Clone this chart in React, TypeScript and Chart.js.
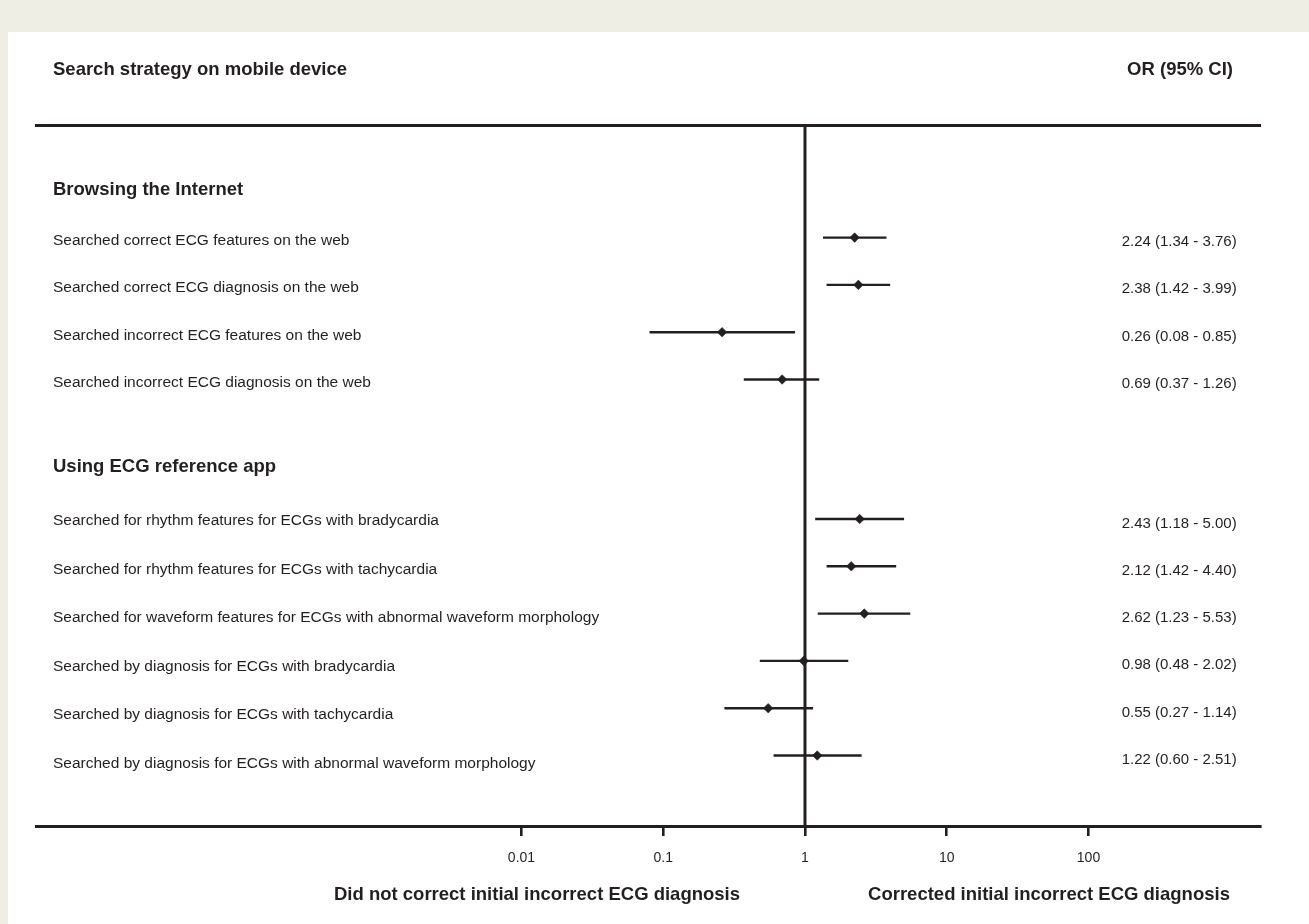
import React, { useEffect, useRef } from "react";
import { Chart, registerables } from "chart.js";

Chart.register(...registerables);

// ---- data ----
const TITLE_LEFT = "Search strategy on mobile device";
const TITLE_RIGHT = "OR (95% CI)";
const GROUP_NAMES = ["Browsing the Internet", "Using ECG reference app"];
const ROW_GROUP = [0, 0, 0, 0, 1, 1, 1, 1, 1, 1];
const ROW_LABELS = [
  "Searched correct ECG features on the web",
  "Searched correct ECG diagnosis on the web",
  "Searched incorrect ECG features on the web",
  "Searched incorrect ECG diagnosis on the web",
  "Searched for rhythm features for ECGs with bradycardia",
  "Searched for rhythm features for ECGs with tachycardia",
  "Searched for waveform features for ECGs with abnormal waveform morphology",
  "Searched by diagnosis for ECGs with bradycardia",
  "Searched by diagnosis for ECGs with tachycardia",
  "Searched by diagnosis for ECGs with abnormal waveform morphology",
];
const OR_VALUES = [2.24, 2.38, 0.26, 0.69, 2.43, 2.12, 2.62, 0.98, 0.55, 1.22];
const CI_LOW = [1.34, 1.42, 0.08, 0.37, 1.18, 1.42, 1.23, 0.48, 0.27, 0.6];
const CI_HIGH = [3.76, 3.99, 0.85, 1.26, 5.0, 4.4, 5.53, 2.02, 1.14, 2.51];
const TICK_VALUES = [0.01, 0.1, 1, 10, 100];
const TICK_LABELS = ["0.01", "0.1", "1", "10", "100"];
const AXIS_LEFT_LABEL = "Did not correct initial incorrect ECG diagnosis";
const AXIS_RIGHT_LABEL = "Corrected initial incorrect ECG diagnosis";

// ---- layout (row slots on the vertical scale) ----
const GROUP_START = [2.38, 8.33];
const HEADER_SLOT = [1.342, 7.188];
const Y_MAX = 14.82;
const X_MIN = Math.pow(10, -5.425);
const X_MAX = Math.pow(10, 3.21);

const INK = "#231f20";
const FONT = "'Liberation Sans', Arial, Helvetica, sans-serif";

function fmt(v: number) {
  return v.toFixed(2);
}

const rowSlots: number[] = (() => {
  const counts = [0, 0];
  return ROW_GROUP.map((g) => {
    const s = GROUP_START[g] + counts[g];
    counts[g] += 1;
    return s;
  });
})();
const rowIndexInGroup: number[] = (() => {
  const counts = [0, 0];
  return ROW_GROUP.map((g) => counts[g]++);
})();

const textPlugin = {
  id: "forestText",
  afterDraw(chart: any) {
    const { ctx, chartArea, scales } = chart;
    const ys = scales.y;
    const xs = scales.x;
    ctx.save();
    ctx.fillStyle = INK;
    ctx.textBaseline = "alphabetic";
    const leftX = chartArea.left + 17;

    ctx.font = `bold 18.5px ${FONT}`;
    ctx.textAlign = "left";
    ctx.fillText(TITLE_LEFT, leftX, chartArea.top - 50);
    ctx.textAlign = "right";
    ctx.fillText(TITLE_RIGHT, chartArea.right - 27, chartArea.top - 50);

    ctx.textAlign = "left";
    GROUP_NAMES.forEach((g, i) => {
      ctx.fillText(g, leftX, ys.getPixelForValue(HEADER_SLOT[i]) + 6.6);
    });

    ctx.font = `15.5px ${FONT}`;
    ROW_LABELS.forEach((lab, i) => {
      const py = ys.getPixelForValue(rowSlots[i]);
      const dy = ROW_GROUP[i] === 0 ? 7.5 : 6 + 1.3 * rowIndexInGroup[i];
      ctx.fillText(lab, leftX, py + dy);
    });

    ctx.font = `15px ${FONT}`;
    ctx.textAlign = "right";
    OR_VALUES.forEach((v, i) => {
      const py = ys.getPixelForValue(rowSlots[i]);
      ctx.fillText(`${fmt(v)} (${fmt(CI_LOW[i])} - ${fmt(CI_HIGH[i])})`, chartArea.right - 23.3, py + 8.5);
    });

    ctx.font = `bold 18.5px ${FONT}`;
    ctx.textAlign = "center";
    const x1 = xs.getPixelForValue(1);
    ctx.fillText(AXIS_LEFT_LABEL, x1 - 268, chartArea.bottom + 74);
    ctx.fillText(AXIS_RIGHT_LABEL, x1 + 244, chartArea.bottom + 74);
    ctx.restore();
  },
};

export default function App() {
  const ref = useRef<HTMLCanvasElement | null>(null);

  useEffect(() => {
    if (!ref.current) return;
    const ciSets = OR_VALUES.map((_, i) => ({
      type: "line" as const,
      data: [
        { x: CI_LOW[i], y: rowSlots[i] },
        { x: CI_HIGH[i], y: rowSlots[i] },
      ],
      borderColor: INK,
      borderWidth: 2.4,
      pointRadius: 0,
      showLine: true,
      order: 2,
    }));
    const chart = new Chart(ref.current, {
      type: "scatter",
      data: {
        datasets: [
          {
            type: "scatter" as const,
            data: OR_VALUES.map((v, i) => ({ x: v, y: rowSlots[i] })),
            pointStyle: "rectRot",
            pointRadius: 4.8,
            backgroundColor: INK,
            borderColor: INK,
            borderWidth: 0.5,
            order: 1,
          },
          ...ciSets,
          {
            type: "line" as const,
            data: [
              { x: 1, y: 0 },
              { x: 1, y: Y_MAX },
            ],
            borderColor: INK,
            borderWidth: 3,
            pointRadius: 0,
            showLine: true,
            order: 3,
          },
        ] as any,
      },
      options: {
        responsive: false,
        animation: false,
        events: [],
        layout: { padding: { left: 28, right: 49, top: 93, bottom: 0 } },
        plugins: { legend: { display: false }, tooltip: { enabled: false }, title: { display: false } },
        scales: {
          x: {
            type: "logarithmic",
            position: "bottom",
            min: X_MIN,
            max: X_MAX,
            bounds: "data",
            afterBuildTicks: (s: any) => {
              s.ticks = TICK_VALUES.map((v) => ({ value: v }));
            },
            afterFit: (s: any) => {
              s.height = 98;
            },
            grid: {
              display: true,
              drawOnChartArea: false,
              drawTicks: true,
              tickLength: 10,
              color: INK,
              lineWidth: 2.6,
            },
            border: { display: true, width: 3, color: INK },
            ticks: {
              autoSkip: false,
              maxRotation: 0,
              padding: 14,
              color: INK,
              font: { family: FONT, size: 14 },
              callback: (_v: any, i: number) => TICK_LABELS[i],
            },
          },
          xTop: {
            type: "logarithmic",
            position: "top",
            min: X_MIN,
            max: X_MAX,
            bounds: "data",
            afterFit: (s: any) => {
              s.height = 0;
            },
            grid: { display: false, drawTicks: false },
            border: { display: true, width: 3, color: INK },
            ticks: { display: false },
          },
          y: {
            type: "linear",
            min: 0,
            max: Y_MAX,
            reverse: true,
            display: false,
          },
        } as any,
      },
      plugins: [textPlugin],
    });
    return () => chart.destroy();
  }, []);

  return (
    <div
      style={{
        position: "fixed",
        left: 0,
        top: 0,
        width: 1309,
        height: 924,
        background: "#efeee5",
      }}
    >
      <div
        style={{
          position: "absolute",
          left: 8,
          top: 32,
          width: 1301,
          height: 892,
          background: "#ffffff",
        }}
      >
        <canvas ref={ref} width={1301} height={892} style={{ display: "block" }} />
      </div>
    </div>
  );
}
